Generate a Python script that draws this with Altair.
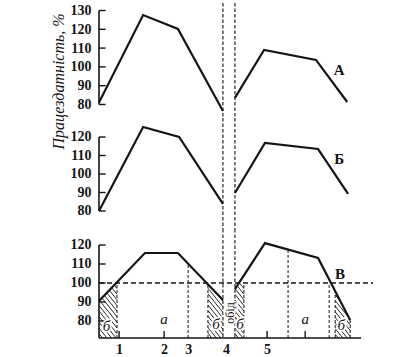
import altair as alt
import pandas as pd
import numpy as np

# ---------------- data (x: working time, arbitrary units; lunch between 4.13 and 4.53)
lunch_x = [4.13, 4.53]

a_x1 = [0.0, 1.47, 2.63, 4.13]
a_y1 = [81.0, 127.6, 120.2, 76.5]
a_x2 = [4.53, 5.50, 7.23, 8.27]
a_y2 = [83.5, 109.0, 103.7, 81.3]

b_x1 = [0.0, 1.47, 2.67, 4.13]
b_y1 = [80.0, 125.4, 120.0, 83.8]
b_x2 = [4.53, 5.53, 7.30, 8.30]
b_y2 = [89.7, 116.8, 113.5, 89.2]

v_x1 = [0.0, 1.53, 2.63, 4.13]
v_y1 = [90.5, 115.8, 115.8, 91.0]
v_x2 = [4.53, 5.53, 7.30, 8.37]
v_y2 = [96.8, 121.0, 113.2, 80.4]

norm_level = 100
drop_x = [0.60, 2.97, 3.63, 4.83, 6.30, 7.67, 7.87, 8.37]
drop_capped = [True, False, True, True, False, True, True, True]
hatch_intervals = [(0.0, 0.60), (3.63, 4.13), (4.53, 4.83), (7.87, 8.37)]

xtick_pos = [0.67, 2.17, 2.97, 4.23, 5.60]
xtick_lab = ["1", "2", "3", "4", "5"]
xtick_marks = [0.67, 2.17, 5.60, 6.87]

a_ticks = [80, 90, 100, 110, 120, 130]
b_ticks = [80, 90, 100, 110, 120]
v_ticks = [80, 90, 100, 110, 120]

a_dom = [72.8, 134.0]
b_dom = [70.27, 130.27]
v_dom = [71.05, 128.42]
x_dom = [0, 9.13]

phase_a_x = [2.17, 6.87]
phase_a_y = [81, 81]
phase_b_x = [0.25, 3.90, 4.70, 8.07]
phase_b_y = [77.4, 78.4, 78.4, 77.9]

SERIF = "Liberation Serif"
INK = "#151515"
W = 274
PX_X = W / (x_dom[1] - x_dom[0])


def xenc(field="x", axis=None):
    return alt.X(field + ":Q", scale=alt.Scale(domain=x_dom, nice=False, zero=False),
                 axis=axis, title=None)


def yaxis(ticks, title=None):
    kw = dict(values=ticks, ticks=False, domain=False, grid=False, labelPadding=8,
              labelFont=SERIF, labelFontSize=14, labelFontWeight="bold", labelColor=INK)
    if title:
        kw.update(title=title, titleFont=SERIF, titleFontSize=16, titleFontStyle="italic",
                  titleFontWeight="normal", titleColor=INK, titleAngle=270,
                  titleX=-33, titleY=78, titleAlign="center", titleBaseline="bottom")
    else:
        kw.update(title=None)
    return alt.Axis(**kw)


def panel(x1, y1, x2, y2, dom, ticks, height, label, label_xy, axis_lo,
          title=None, xaxis=None, extra=None):
    ysc = alt.Scale(domain=dom, nice=False, zero=False)
    ax = yaxis(ticks, title)

    def yenc(field="y"):
        return alt.Y(field + ":Q", scale=ysc, axis=ax)

    lines = pd.DataFrame({
        "x": x1 + x2, "y": y1 + y2,
        "seg": ["before"] * len(x1) + ["after"] * len(x2)})
    layers = []
    layers.append(alt.Chart(lines).mark_line(color=INK, strokeWidth=2.2, strokeJoin="miter").encode(
        x=xenc("x", xaxis), y=yenc(), detail="seg:N"))
    # y axis line
    layers.append(alt.Chart(pd.DataFrame({"x": [0], "y": [axis_lo], "y2": [max(ticks)]}))
                  .mark_rule(color=INK, strokeWidth=1.6).encode(x=xenc("x", xaxis), y=yenc(), y2="y2:Q"))
    # y ticks pointing inward
    layers.append(alt.Chart(pd.DataFrame({"x": [0] * len(ticks), "x2": [0.22] * len(ticks), "y": ticks}))
                  .mark_rule(color=INK, strokeWidth=1.4).encode(x=xenc("x", xaxis), x2="x2:Q", y=yenc()))
    # lunch dashed verticals spanning the full panel
    layers.append(alt.Chart(pd.DataFrame({"x": lunch_x}))
                  .mark_rule(color=INK, strokeWidth=1.1, strokeDash=[3.5, 2]).encode(x=xenc("x", xaxis)))
    # panel letter
    layers.append(alt.Chart(pd.DataFrame({"x": [label_xy[0]], "y": [label_xy[1]], "t": [label]}))
                  .mark_text(font=SERIF, fontSize=15, fontWeight="bold", color=INK)
                  .encode(x=xenc("x", xaxis), y=yenc(), text="t:N"))
    if extra:
        layers.extend(extra(xenc, yenc, xaxis))
    return alt.layer(*layers).properties(width=W, height=height)


def hatch_segments(lx, ly, intervals, cap, ybot, px_y, step=4.5, slope=1.25):
    segs = []
    for a, b in intervals:
        ts = np.linspace(a, b, 800)
        top = np.minimum(np.interp(ts, lx, ly), cap)
        px = ts * PX_X
        sy_top = -top * px_y
        sy_bot = -ybot * px_y
        cmin = sy_top.min() - slope * px.max()
        cmax = sy_bot - slope * px.min()
        for c in np.arange(cmin, cmax, step * slope):
            sy = slope * px + c
            inside = (sy >= sy_top - 1e-9) & (sy <= sy_bot + 1e-9)
            idx = np.where(inside)[0]
            if len(idx) < 2:
                continue
            i0, i1 = idx[0], idx[-1]
            segs.append({"x": ts[i0], "y": -sy[i0] / px_y, "x2": ts[i1], "y2": -sy[i1] / px_y})
    return pd.DataFrame(segs)


V_H = 109
v_px_y = V_H / (v_dom[1] - v_dom[0])


def v_extra(xenc, yenc, xaxis):
    out = []
    # norm level dashed line
    out.append(alt.Chart(pd.DataFrame({"x": [0], "x2": [x_dom[1]], "y": [norm_level]}))
               .mark_rule(color=INK, strokeWidth=1.3, strokeDash=[5, 3]).encode(x=xenc("x", xaxis), x2="x2:Q", y=yenc()))
    # drop lines
    tops = []
    for dx, capd in zip(drop_x, drop_capped):
        if dx <= lunch_x[0]:
            val = float(np.interp(dx, v_x1, v_y1))
        else:
            val = float(np.interp(dx, v_x2, v_y2))
        tops.append(min(val, norm_level) if capd else val)
    out.append(alt.Chart(pd.DataFrame({"x": drop_x, "y": [v_dom[0]] * len(drop_x), "y2": tops}))
               .mark_rule(color=INK, strokeWidth=1, strokeDash=[3, 2]).encode(x=xenc("x", xaxis), y=yenc(), y2="y2:Q"))
    # hatching
    hs = []
    for a, b in hatch_intervals:
        if b <= lunch_x[0]:
            hs.append(hatch_segments(v_x1, v_y1, [(a, b)], norm_level, v_dom[0], v_px_y))
        else:
            hs.append(hatch_segments(v_x2, v_y2, [(a, b)], norm_level, v_dom[0], v_px_y))
    hdf = pd.concat(hs, ignore_index=True)
    out.append(alt.Chart(hdf).mark_rule(color=INK, strokeWidth=0.9).encode(
        x=xenc("x", xaxis), y=yenc(), x2="x2:Q", y2="y2:Q"))
    # x axis line
    out.append(alt.Chart(pd.DataFrame({"x": [0], "x2": [8.73], "y": [v_dom[0]]}))
               .mark_rule(color=INK, strokeWidth=1.6).encode(x=xenc("x", xaxis), x2="x2:Q", y=yenc()))
    # x ticks pointing up
    out.append(alt.Chart(pd.DataFrame({"x": xtick_marks, "y": [v_dom[0]] * len(xtick_marks),
                                       "y2": [v_dom[0] + 7 / v_px_y] * len(xtick_marks)}))
               .mark_rule(color=INK, strokeWidth=1.4).encode(x=xenc("x", xaxis), y=yenc(), y2="y2:Q"))
    # phase labels
    out.append(alt.Chart(pd.DataFrame({"x": phase_a_x, "y": phase_a_y, "t": ["а"] * len(phase_a_x)}))
               .mark_text(font=SERIF, fontSize=15, fontStyle="italic", color=INK)
               .encode(x=xenc("x", xaxis), y=yenc(), text="t:N"))
    bdf = pd.DataFrame({"x": phase_b_x, "y": phase_b_y, "t": ["б"] * len(phase_b_x)})
    out.append(alt.Chart(bdf)
               .mark_text(font=SERIF, fontSize=15, fontStyle="italic", color="white",
                          stroke="white", strokeWidth=3.5)
               .encode(x=xenc("x", xaxis), y=yenc(), text="t:N"))
    out.append(alt.Chart(bdf)
               .mark_text(font=SERIF, fontSize=15, fontStyle="italic", color=INK)
               .encode(x=xenc("x", xaxis), y=yenc(), text="t:N"))
    ldf = pd.DataFrame({"x": [4.37], "y": [84.2], "t": ["обід"]})
    out.append(alt.Chart(ldf)
               .mark_text(font=SERIF, fontSize=12, angle=270, color="white", stroke="white", strokeWidth=3)
               .encode(x=xenc("x", xaxis), y=yenc(), text="t:N"))
    out.append(alt.Chart(ldf)
               .mark_text(font=SERIF, fontSize=12, angle=270, color=INK)
               .encode(x=xenc("x", xaxis), y=yenc(), text="t:N"))
    return out


arr = "[" + ",".join(str(v) for v in xtick_pos) + "]"
labs = "[" + ",".join("'" + s + "'" for s in xtick_lab) + "]"
bottom_axis = alt.Axis(values=xtick_pos, ticks=False, domain=False, grid=False,
                       labelExpr=f"{labs}[indexof({arr}, datum.value)]",
                       labelFont=SERIF, labelFontSize=14, labelFontWeight="bold",
                       labelColor=INK, labelPadding=4, labelFlush=False, title=None)

pA = panel(a_x1, a_y1, a_x2, a_y2, a_dom, a_ticks, 115, "А", (8.0, 98.4), 80,
           title="Працездатність, %")
pB = panel(b_x1, b_y1, b_x2, b_y2, b_dom, b_ticks, 111, "Б", (8.0, 108.1), 80)
pV = panel(v_x1, v_y1, v_x2, v_y2, v_dom, v_ticks, V_H, "В", (8.03, 104.7), v_dom[0],
           xaxis=bottom_axis, extra=v_extra)

chart = alt.vconcat(pA, pB, pV, spacing=0, bounds="flush").properties(
    padding={"left": 49, "top": 2, "right": 5, "bottom": 5},
    background="white",
).configure_view(stroke=None)

chart.save("out.html", embed_options={"renderer": "svg", "actions": False})
